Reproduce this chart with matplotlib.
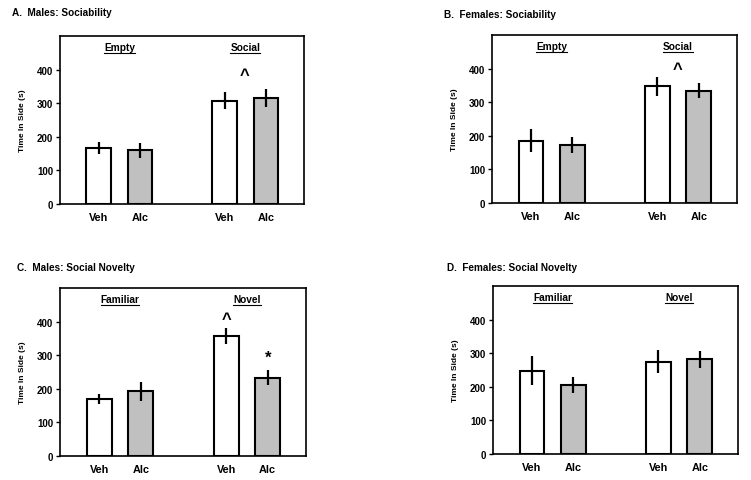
import matplotlib
matplotlib.use("Agg")
import matplotlib.pyplot as plt
from matplotlib.lines import Line2D

plt.rcParams["font.family"] = ["Liberation Sans", "DejaVu Sans"]
plt.rcParams["font.weight"] = "bold"

# ---------------------------------------------------------------------------
# Data
# ---------------------------------------------------------------------------
bar_labels = ["Veh", "Alc", "Veh", "Alc"]
bar_colors = ["white", "#c0c0c0", "white", "#c0c0c0"]

titles = ["A.  Males: Sociability", "B.  Females: Sociability",
          "C.  Males: Social Novelty", "D.  Females: Social Novelty"]
groups = [["Empty", "Social"], ["Empty", "Social"],
          ["Familiar", "Novel"], ["Familiar", "Novel"]]

males_soc_mean = [166, 160, 307, 315]
males_soc_sem = [18, 23, 25, 27]
females_soc_mean = [186, 172, 347, 334]
females_soc_sem = [33, 23, 28, 22]
males_nov_mean = [170, 192, 357, 233]
males_nov_sem = [16, 27, 24, 23]
females_nov_mean = [248, 205, 275, 282]
females_nov_sem = [43, 23, 35, 25]

means = [males_soc_mean, females_soc_mean, males_nov_mean, females_nov_mean]
sems = [males_soc_sem, females_soc_sem, males_nov_sem, females_nov_sem]

# significance marks: (x position, y value, symbol)
marks = [
    [(3.525, 385, "^")],
    [(3.525, 400, "^")],
    [(3.05, 410, "^"), (4.05, 295, "*")],
    [],
]

positions = [0, 1, 3.05, 4.05]
group_x = [0.5, 3.55]
yticks = [0, 100, 200, 300, 400]

# axes rectangles in pixels: left, bottom(from top), right, top(from top)
W, H = 751, 481
boxes = [(60, 205, 304, 37), (492, 204, 737, 36),
         (60, 457, 306, 289), (493, 455, 738, 287)]
title_pos = [(12, 13), (444, 15), (17, 268), (447, 268)]

fig = plt.figure(figsize=(W / 100, H / 100), dpi=100)

axes = []
for i in range(4):
    l, b, r, t = boxes[i]
    ax = fig.add_axes([l / W, 1 - b / H, (r - l) / W, (b - t) / H])
    axes.append(ax)
    ax.bar(positions, means[i], width=0.6, color=bar_colors,
           edgecolor="black", linewidth=1.5, zorder=2)
    ax.errorbar(positions, means[i], yerr=sems[i], fmt="none",
                ecolor="black", elinewidth=1.6, capsize=0, zorder=3)
    ax.set_xlim(-0.94, 4.97)
    ax.set_ylim(0, 500)
    ax.set_yticks(yticks)
    ax.set_xticks(positions)
    ax.set_xticklabels(bar_labels, fontsize=7.8, fontweight="bold")
    ax.tick_params(axis="x", length=0, pad=6)
    ax.tick_params(axis="y", direction="out", length=3, width=1,
                   labelsize=7, pad=2)
    for lab in ax.get_yticklabels():
        lab.set_fontweight("bold")
    for sp in ax.spines.values():
        sp.set_linewidth(1.2)
    ax.set_ylabel("Time In Side (s)", fontsize=6, fontweight="bold",
                  labelpad=8)
    for gx, g in zip(group_x, groups[i]):
        ax.text(gx, 466, g, ha="center", va="center", fontsize=7.3,
                fontweight="bold")
    for mx, my, sym in marks[i]:
        ax.text(mx, my, sym, ha="center", va="center", fontsize=12,
                fontweight="bold")
    tx, ty = title_pos[i]
    fig.text(tx / W, 1 - ty / H, titles[i], ha="left", va="center",
             fontsize=7.2, fontweight="bold")

# underline the group labels
fig.canvas.draw()
renderer = fig.canvas.get_renderer()
for ax in axes:
    for txt in ax.texts:
        if txt.get_text() in ("^", "*"):
            continue
        bb = txt.get_window_extent(renderer)
        inv = fig.transFigure.inverted()
        (x0, y0), (x1, _) = inv.transform([(bb.x0, bb.y0 - 0.5), (bb.x1, bb.y0)])
        fig.add_artist(Line2D([x0, x1], [y0, y0], color="black", lw=0.8,
                              transform=fig.transFigure))

fig.savefig("out.png", dpi=100)
